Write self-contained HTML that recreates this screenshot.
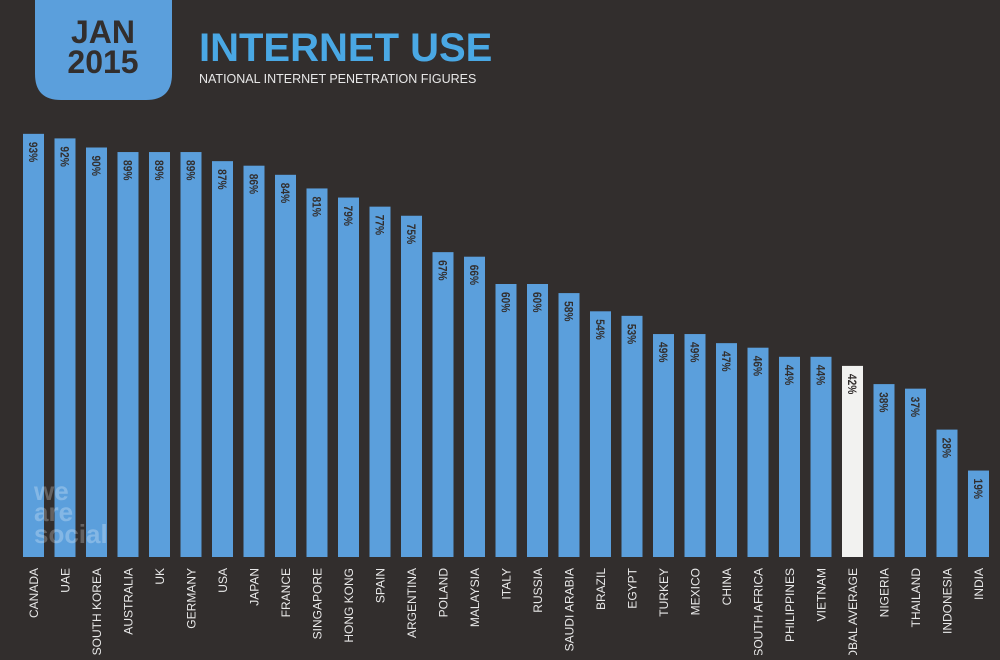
<!DOCTYPE html>
<html><head><meta charset="utf-8"><style>
body{margin:0;background:#322e2d;width:1000px;height:655px;overflow:hidden;font-family:"Liberation Sans",sans-serif}
</style></head><body>
<svg width="1000" height="655">
<rect x="0" y="0" width="1000" height="655" fill="#322e2d"/>
<path d="M35 0 H172 V74 Q172 100 146 100 H61 Q35 100 35 74 Z" fill="#5b9fdc"/>
<text x="103" y="43" text-anchor="middle" font-size="32" font-weight="bold" fill="#322e2d">JAN</text>
<text x="103" y="73" text-anchor="middle" font-size="32" font-weight="bold" fill="#322e2d">2015</text>
<text x="199" y="61" font-size="40" font-weight="bold" fill="#4aa8e4">INTERNET USE</text>
<text x="199" y="83" font-size="12.5" fill="#e8e8e8">NATIONAL INTERNET PENETRATION FIGURES</text>
<g id="bars"></g>
<text x="34" y="500" font-size="26" font-weight="bold" fill="#ffffff" fill-opacity="0.25">we</text>
<text x="34" y="521" font-size="26" font-weight="bold" fill="#ffffff" fill-opacity="0.25">are</text>
<text x="34" y="543" font-size="26" font-weight="bold" fill="#ffffff" fill-opacity="0.25">social</text>
</svg>
<script>
const categories=["CANADA","UAE","SOUTH KOREA","AUSTRALIA","UK","GERMANY","USA","JAPAN","FRANCE","SINGAPORE","HONG KONG","SPAIN","ARGENTINA","POLAND","MALAYSIA","ITALY","RUSSIA","SAUDI ARABIA","BRAZIL","EGYPT","TURKEY","MEXICO","CHINA","SOUTH AFRICA","PHILIPPINES","VIETNAM","GLOBAL AVERAGE","NIGERIA","THAILAND","INDONESIA","INDIA"];
const values=[93,92,90,89,89,89,87,86,84,81,79,77,75,67,66,60,60,58,54,53,49,49,47,46,44,44,42,38,37,28,19];
const highlight=["GLOBAL AVERAGE"];
const NS="http://www.w3.org/2000/svg";
const g=document.getElementById("bars");
const x0=23,step=31.5,bw=21,base=557,ppu=4.55;
const xs=i=>x0+i*step;
const ys=v=>base-v*ppu;
categories.forEach((c,i)=>{
  const x=xs(i),y=ys(values[i]);
  const r=document.createElementNS(NS,"rect");
  r.setAttribute("x",x);r.setAttribute("y",y);r.setAttribute("width",bw);r.setAttribute("height",base-y);
  r.setAttribute("fill",highlight.includes(c)?"#f2f2f0":"#5b9fdc");
  
  
  g.appendChild(r);
  const t=document.createElementNS(NS,"text");
  const cx=x+bw/2;
  t.setAttribute("transform","translate("+(cx-4.5)+","+(y+8)+") rotate(90) scale(0.85,1)");
  t.setAttribute("font-size","12");t.setAttribute("font-weight","bold");t.setAttribute("fill","#322e2d");
  t.textContent=values[i]+"%";
  
  
  g.appendChild(t);
  const l=document.createElementNS(NS,"text");
  l.setAttribute("transform","translate("+(cx+4.5)+",568) rotate(-90)");
  l.setAttribute("text-anchor","end");l.setAttribute("font-size","12");l.setAttribute("fill","#e8e8e8");
  l.textContent=c;
  
  
  g.appendChild(l);
});
</script>
</body></html>
